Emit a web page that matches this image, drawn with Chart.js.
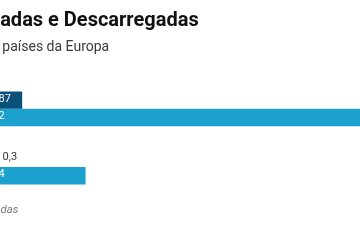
<!DOCTYPE html>
<html>
<head>
<meta charset="utf-8">
<script src="https://cdn.jsdelivr.net/npm/chart.js@4"></script>
<style>
  html, body { margin: 0; padding: 0; background: #fff; overflow: hidden; width: 360px; height: 240px; }
  #wrap { position: absolute; top: 0; height: 240px; }
</style>
</head>
<body>
<div id="wrap"><canvas id="cargoChart"></canvas></div>
<script>
// Data
const categories = ['Portugal', 'Espanha'];
const seriesNames = ['Carregadas', 'Descarregadas'];
const loadedValues = [0.87, 0.3];
const unloadedValues = [9.2, 2.4];
const axisMax = 10;

const titleText = 'Mercadorias Carregadas e Descarregadas';
const subtitleText = 'Milhões de toneladas, vários países da Europa';
const footerText = 'Dados: valores em milhões de toneladas';

// Layout
const padLeft = 8;
const pxPerUnit = 41.4;

const measure = document.createElement('canvas').getContext('2d');
measure.font = 'bold 20px Roboto';
const hiddenWidth = measure.measureText('Mercadorias Carreg').width;
const shiftLeft = padLeft + hiddenWidth;
const yAxisWidth = shiftLeft - 14 - padLeft;
const wrapWidth = shiftLeft - 14 + axisMax * pxPerUnit + 10;

const wrap = document.getElementById('wrap');
wrap.style.left = (-shiftLeft) + 'px';
wrap.style.width = wrapWidth + 'px';

const fmt = v => v.toLocaleString('pt-PT');

const barLabels = {
    id: 'barLabels',
    afterDatasetsDraw(chart) {
        const ctx = chart.ctx;
        ctx.save();
        ctx.font = '11px Roboto';
        ctx.textBaseline = 'middle';
        ctx.textAlign = 'left';
        chart.data.datasets.forEach((ds, i) => {
            chart.getDatasetMeta(i).data.forEach((bar, j) => {
                const text = fmt(ds.data[j]);
                const w = ctx.measureText(text).width;
                if (bar.x - bar.base > w + 8) {
                    ctx.fillStyle = '#ffffff';
                    ctx.fillText(text, bar.base + 4, bar.y - 1);
                } else {
                    ctx.fillStyle = '#333333';
                    ctx.fillText(text, bar.x + 4, bar.y - 1);
                }
            });
        });
        ctx.restore();
    }
};

const footer = {
    id: 'footer',
    afterDraw(chart) {
        const ctx = chart.ctx;
        ctx.save();
        ctx.font = 'italic 11.25px Roboto';
        ctx.fillStyle = '#777777';
        ctx.textBaseline = 'alphabetic';
        ctx.textAlign = 'left';
        ctx.fillText(footerText, padLeft, 213);
        ctx.restore();
    }
};

new Chart(document.getElementById('cargoChart'), {
    type: 'bar',
    data: {
        labels: categories,
        datasets: [{
            label: seriesNames[0],
            data: loadedValues,
            backgroundColor: '#0a5078',
            categoryPercentage: 0.6,
            barPercentage: 1
        }, {
            label: seriesNames[1],
            data: unloadedValues,
            backgroundColor: '#1aa1cd',
            categoryPercentage: 0.6,
            barPercentage: 1
        }]
    },
    options: {
        indexAxis: 'y',
        responsive: true,
        maintainAspectRatio: false,
        animation: false,
        layout: { padding: { left: padLeft, right: 10, top: 7, bottom: 44 } },
        plugins: {
            legend: { display: false },
            tooltip: { enabled: false },
            title: {
                display: true,
                text: titleText,
                align: 'start',
                color: '#111111',
                font: { family: 'Roboto', size: 20, weight: 'bold' },
                padding: { top: 2, bottom: 6 }
            },
            subtitle: {
                display: true,
                text: subtitleText,
                align: 'start',
                color: '#3a3a3a',
                font: { family: 'Roboto', size: 14 },
                padding: { top: 0, bottom: 24 }
            }
        },
        scales: {
            x: {
                display: false,
                min: 0,
                max: axisMax
            },
            y: {
                grid: { display: false },
                border: { display: false },
                ticks: { color: '#333', font: { family: 'Roboto', size: 12 } },
                afterFit(scale) { scale.width = yAxisWidth; }
            }
        }
    },
    plugins: [barLabels, footer]
});
</script>
</body>
</html>
